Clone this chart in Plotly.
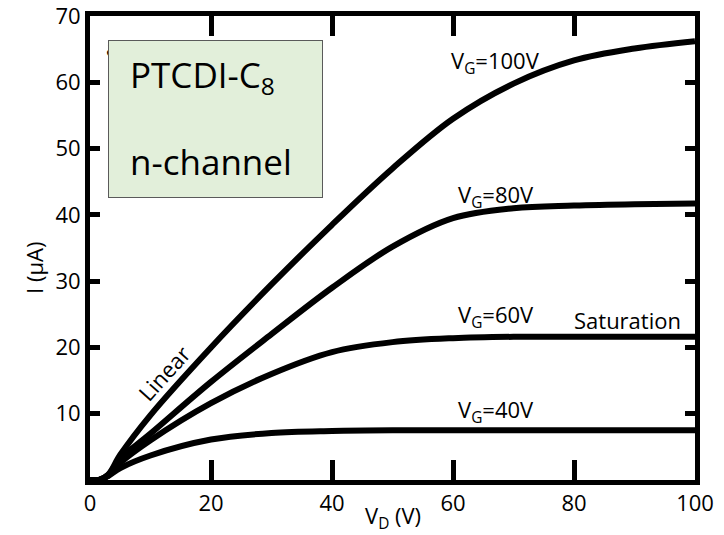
import plotly.graph_objects as go

# Drain voltage (V)
vd = [0, 1.5, 3, 5, 10, 20, 30, 40, 50, 60, 70, 80, 90, 100]
# Drain current (uA) for each gate voltage
i_vg40 = [0, 0, 0.6, 1.8, 3.7, 6.1, 7.1, 7.4, 7.5, 7.5, 7.5, 7.5, 7.5, 7.5]
i_vg60 = [0, 0, 0.7, 2.6, 6.0, 11.6, 16.0, 19.3, 20.8, 21.4, 21.6, 21.6, 21.6, 21.6]
i_vg80 = [0, 0, 0.75, 3.2, 7.0, 14.8, 22.0, 29.0, 35.2, 39.5, 41.0, 41.4, 41.6, 41.7]
i_vg100 = [0, 0, 0.8, 3.8, 9.8, 20.0, 29.5, 38.5, 47.0, 54.5, 59.8, 63.3, 65.1, 66.2]

series = [("V<sub>G</sub>=40V", i_vg40), ("V<sub>G</sub>=60V", i_vg60),
          ("V<sub>G</sub>=80V", i_vg80), ("V<sub>G</sub>=100V", i_vg100)]

x_ticks = [0, 20, 40, 60, 80, 100]
y_ticks = [10, 20, 30, 40, 50, 60, 70]

FONT = "Open Sans"

fig = go.Figure()
for name, ys in series:
    fig.add_trace(go.Scatter(x=vd, y=ys, mode="lines", name=name,
                             line=dict(color="black", width=6, shape="spline", smoothing=1.0),
                             showlegend=False, hoverinfo="skip"))

ann = []
# partially hidden panel letter
ann.append(dict(x=3.6, y=65.3, xref="x", yref="y", text="a", showarrow=False,
                font=dict(family=FONT, size=22, color="black"), xanchor="center", yanchor="middle"))
# green box
ann.append(dict(x=2.98, y=66.4, xref="x", yref="y", text=" ", showarrow=False,
                xanchor="left", yanchor="top", width=213, height=156,
                bgcolor="#e2efda", bordercolor="#5a5a5a", borderwidth=1, borderpad=0))
ann.append(dict(x=6.3, y=60.8, xref="x", yref="y", text="PTCDI-C<sub>8</sub>", showarrow=False,
                font=dict(family=FONT, size=35, color="black"), xanchor="left", yanchor="middle"))
ann.append(dict(x=6.3, y=48.0, xref="x", yref="y", text="n-channel", showarrow=False,
                font=dict(family=FONT, size=35, color="black"), xanchor="left", yanchor="middle"))

labels = [("V<sub>G</sub>=100V", 59.3, 63.0), ("V<sub>G</sub>=80V", 60.5, 42.8),
          ("V<sub>G</sub>=60V", 60.5, 24.7), ("V<sub>G</sub>=40V", 60.5, 10.4)]
for t, x, y in labels:
    ann.append(dict(x=x, y=y, xref="x", yref="y", text=t, showarrow=False,
                    font=dict(family=FONT, size=22, color="black"), xanchor="left", yanchor="middle"))
ann.append(dict(x=79.6, y=24.1, xref="x", yref="y", text="Saturation", showarrow=False,
                font=dict(family=FONT, size=22, color="black"), xanchor="left", yanchor="middle"))
ann.append(dict(x=12.2, y=16.1, xref="x", yref="y", text="Linear", showarrow=False, textangle=-48,
                font=dict(family=FONT, size=22, color="black"), xanchor="center", yanchor="middle"))
# axis titles
ann.append(dict(x=0.5, y=-0.08, xref="paper", yref="paper", text="V<sub>D</sub> (V)", showarrow=False,
                font=dict(family=FONT, size=22, color="black"), xanchor="center", yanchor="middle"))
ann.append(dict(x=-0.0926, y=0.457, xref="paper", yref="paper", text="I (μA)", showarrow=False,
                textangle=-90, font=dict(family=FONT, size=22, color="black"),
                xanchor="center", yanchor="middle"))

fig.update_layout(
    width=724, height=535,
    margin=dict(l=90, r=29, t=16, b=55),
    paper_bgcolor="white", plot_bgcolor="white",
    font=dict(family=FONT, size=22, color="black"),
    annotations=ann,
    xaxis=dict(range=[0, 100], tickvals=x_ticks, ticktext=[str(v) for v in x_ticks],
               showgrid=False, zeroline=False, showline=True, linewidth=5, linecolor="black",
               mirror="allticks", ticks="inside", ticklen=20, tickwidth=5, tickcolor="black",
               tickfont=dict(family=FONT, size=22), automargin=False, ticklabeloverflow="allow"),
    yaxis=dict(range=[0, 70], tickvals=y_ticks, ticktext=[str(v) for v in y_ticks],
               showgrid=False, zeroline=False, showline=True, linewidth=5, linecolor="black",
               mirror="allticks", ticks="inside", ticklen=10, tickwidth=5, tickcolor="black",
               tickfont=dict(family=FONT, size=22), automargin=False, ticklabeloverflow="allow"),
)

fig.write_html("out.html", config={"displayModeBar": False},
               post_script="document.body.style.margin='0';document.body.style.overflow='hidden';")
